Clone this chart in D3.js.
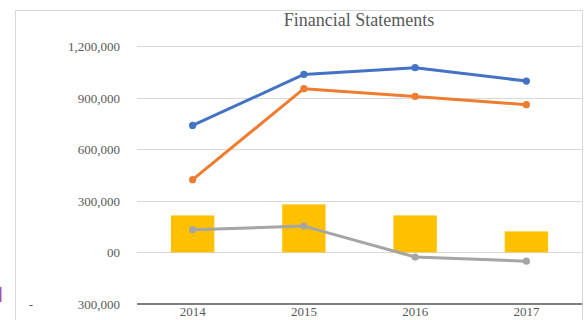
<!DOCTYPE html>
<html>
<head>
<meta charset="utf-8">
<script src="https://cdn.jsdelivr.net/npm/d3@7"></script>
<style>
  html, body { margin: 0; padding: 0; background: #fff; }
  svg { display: block; }
</style>
</head>
<body>
<svg id="chart" width="587" height="320"></svg>
<script>
// Yearly figures
const categories = ["2014", "2015", "2016", "2017"];
const barValues = [215000, 279000, 215000, 122000];
const blueValues = [738000, 1035000, 1074000, 996000];
const orangeValues = [423000, 952000, 907000, 859000];
const grayValues = [132000, 153000, -27000, -51000];

// Axis ticks and their printed labels (accounting-style format)
const yTicks = [1200000, 900000, 600000, 300000, 0, -300000];
const yTickLabels = ["1,200,000", "900,000", "600,000", "300,000", "00", "300,000"];

const svg = d3.select("#chart");
const plot = { left: 137, right: 582, top: 46, bottom: 304 };
const textColor = "#595959";
const font = "'Liberation Serif', 'Times New Roman', serif";

const x = d3.scaleBand().domain(categories).range([plot.left, plot.right]).paddingInner(0.61).paddingOuter(0.305);
const xc = d => x(d) + x.bandwidth() / 2;
const y = d3.scaleLinear().domain([-300000, 1200000]).range([plot.bottom, plot.top]);

// Chart frame
svg.append("rect")
  .attr("x", 15.5).attr("y", 10.5)
  .attr("width", 567).attr("height", 330)
  .attr("fill", "none").attr("stroke", "#d9d9d9").attr("stroke-width", 1);

// Small side marker at the left edge
svg.append("rect").attr("x", 0).attr("y", 287).attr("width", 1.5).attr("height", 15).attr("fill", "#9b59b6");

// Title
svg.append("text")
  .attr("x", 359).attr("y", 26)
  .attr("text-anchor", "middle")
  .attr("font-family", font).attr("font-size", 18)
  .attr("fill", textColor)
  .text("Financial Statements");

// Gridlines
svg.append("g").selectAll("line")
  .data(yTicks.filter(t => t > -300000))
  .join("line")
  .attr("x1", plot.left).attr("x2", plot.right)
  .attr("y1", d => Math.round(y(d)) + 0.5).attr("y2", d => Math.round(y(d)) + 0.5)
  .attr("stroke", "#d9d9d9").attr("stroke-width", 1);

// Y axis labels
const yAxis = svg.append("g")
  .attr("transform", `translate(${plot.left - 17},0)`)
  .call(d3.axisLeft(y).tickValues(yTicks).tickSize(0).tickPadding(0)
    .tickFormat((d, i) => yTickLabels[i]));
yAxis.select(".domain").remove();
yAxis.selectAll("text")
  .attr("font-family", font).attr("font-size", 13).attr("fill", textColor)
  .attr("dy", "0.35em");
// leading minus of the accounting format sits at the far left
svg.append("text")
  .attr("x", 31).attr("y", y(-300000))
  .attr("dy", "0.35em").attr("text-anchor", "middle")
  .attr("font-family", font).attr("font-size", 13).attr("fill", textColor)
  .text("-");

// Bars
svg.append("g").selectAll("rect")
  .data(categories)
  .join("rect")
  .attr("x", d => x(d))
  .attr("width", x.bandwidth())
  .attr("y", (d, i) => y(Math.max(0, barValues[i])))
  .attr("height", (d, i) => Math.abs(y(barValues[i]) - y(0)))
  .attr("fill", "#FFC000");

// Bottom axis line and year labels
svg.append("line")
  .attr("x1", plot.left).attr("x2", plot.right)
  .attr("y1", y(-300000)).attr("y2", y(-300000))
  .attr("stroke", "#7f7f7f").attr("stroke-width", 2);

const xAxis = svg.append("g")
  .attr("transform", `translate(0,${y(-300000) + 1})`)
  .call(d3.axisBottom(x).tickSize(0).tickPadding(2));
xAxis.select(".domain").remove();
xAxis.selectAll("text")
  .attr("font-family", font).attr("font-size", 13).attr("fill", textColor);

// Line series
const seriesList = [
  { values: grayValues, color: "#A5A5A5" },
  { values: orangeValues, color: "#ED7D31" },
  { values: blueValues, color: "#4472C4" }
];
const line = d3.line().x(d => xc(d.cat)).y(d => y(d.v));
seriesList.forEach(s => {
  const pts = categories.map((c, i) => ({ cat: c, v: s.values[i] }));
  svg.append("path")
    .datum(pts)
    .attr("d", line)
    .attr("fill", "none")
    .attr("stroke", s.color)
    .attr("stroke-width", 3)
    .attr("stroke-linejoin", "round");
  svg.append("g").selectAll("circle")
    .data(pts)
    .join("circle")
    .attr("cx", d => xc(d.cat))
    .attr("cy", d => y(d.v))
    .attr("r", 3.6)
    .attr("fill", s.color);
});
</script>
</body>
</html>
